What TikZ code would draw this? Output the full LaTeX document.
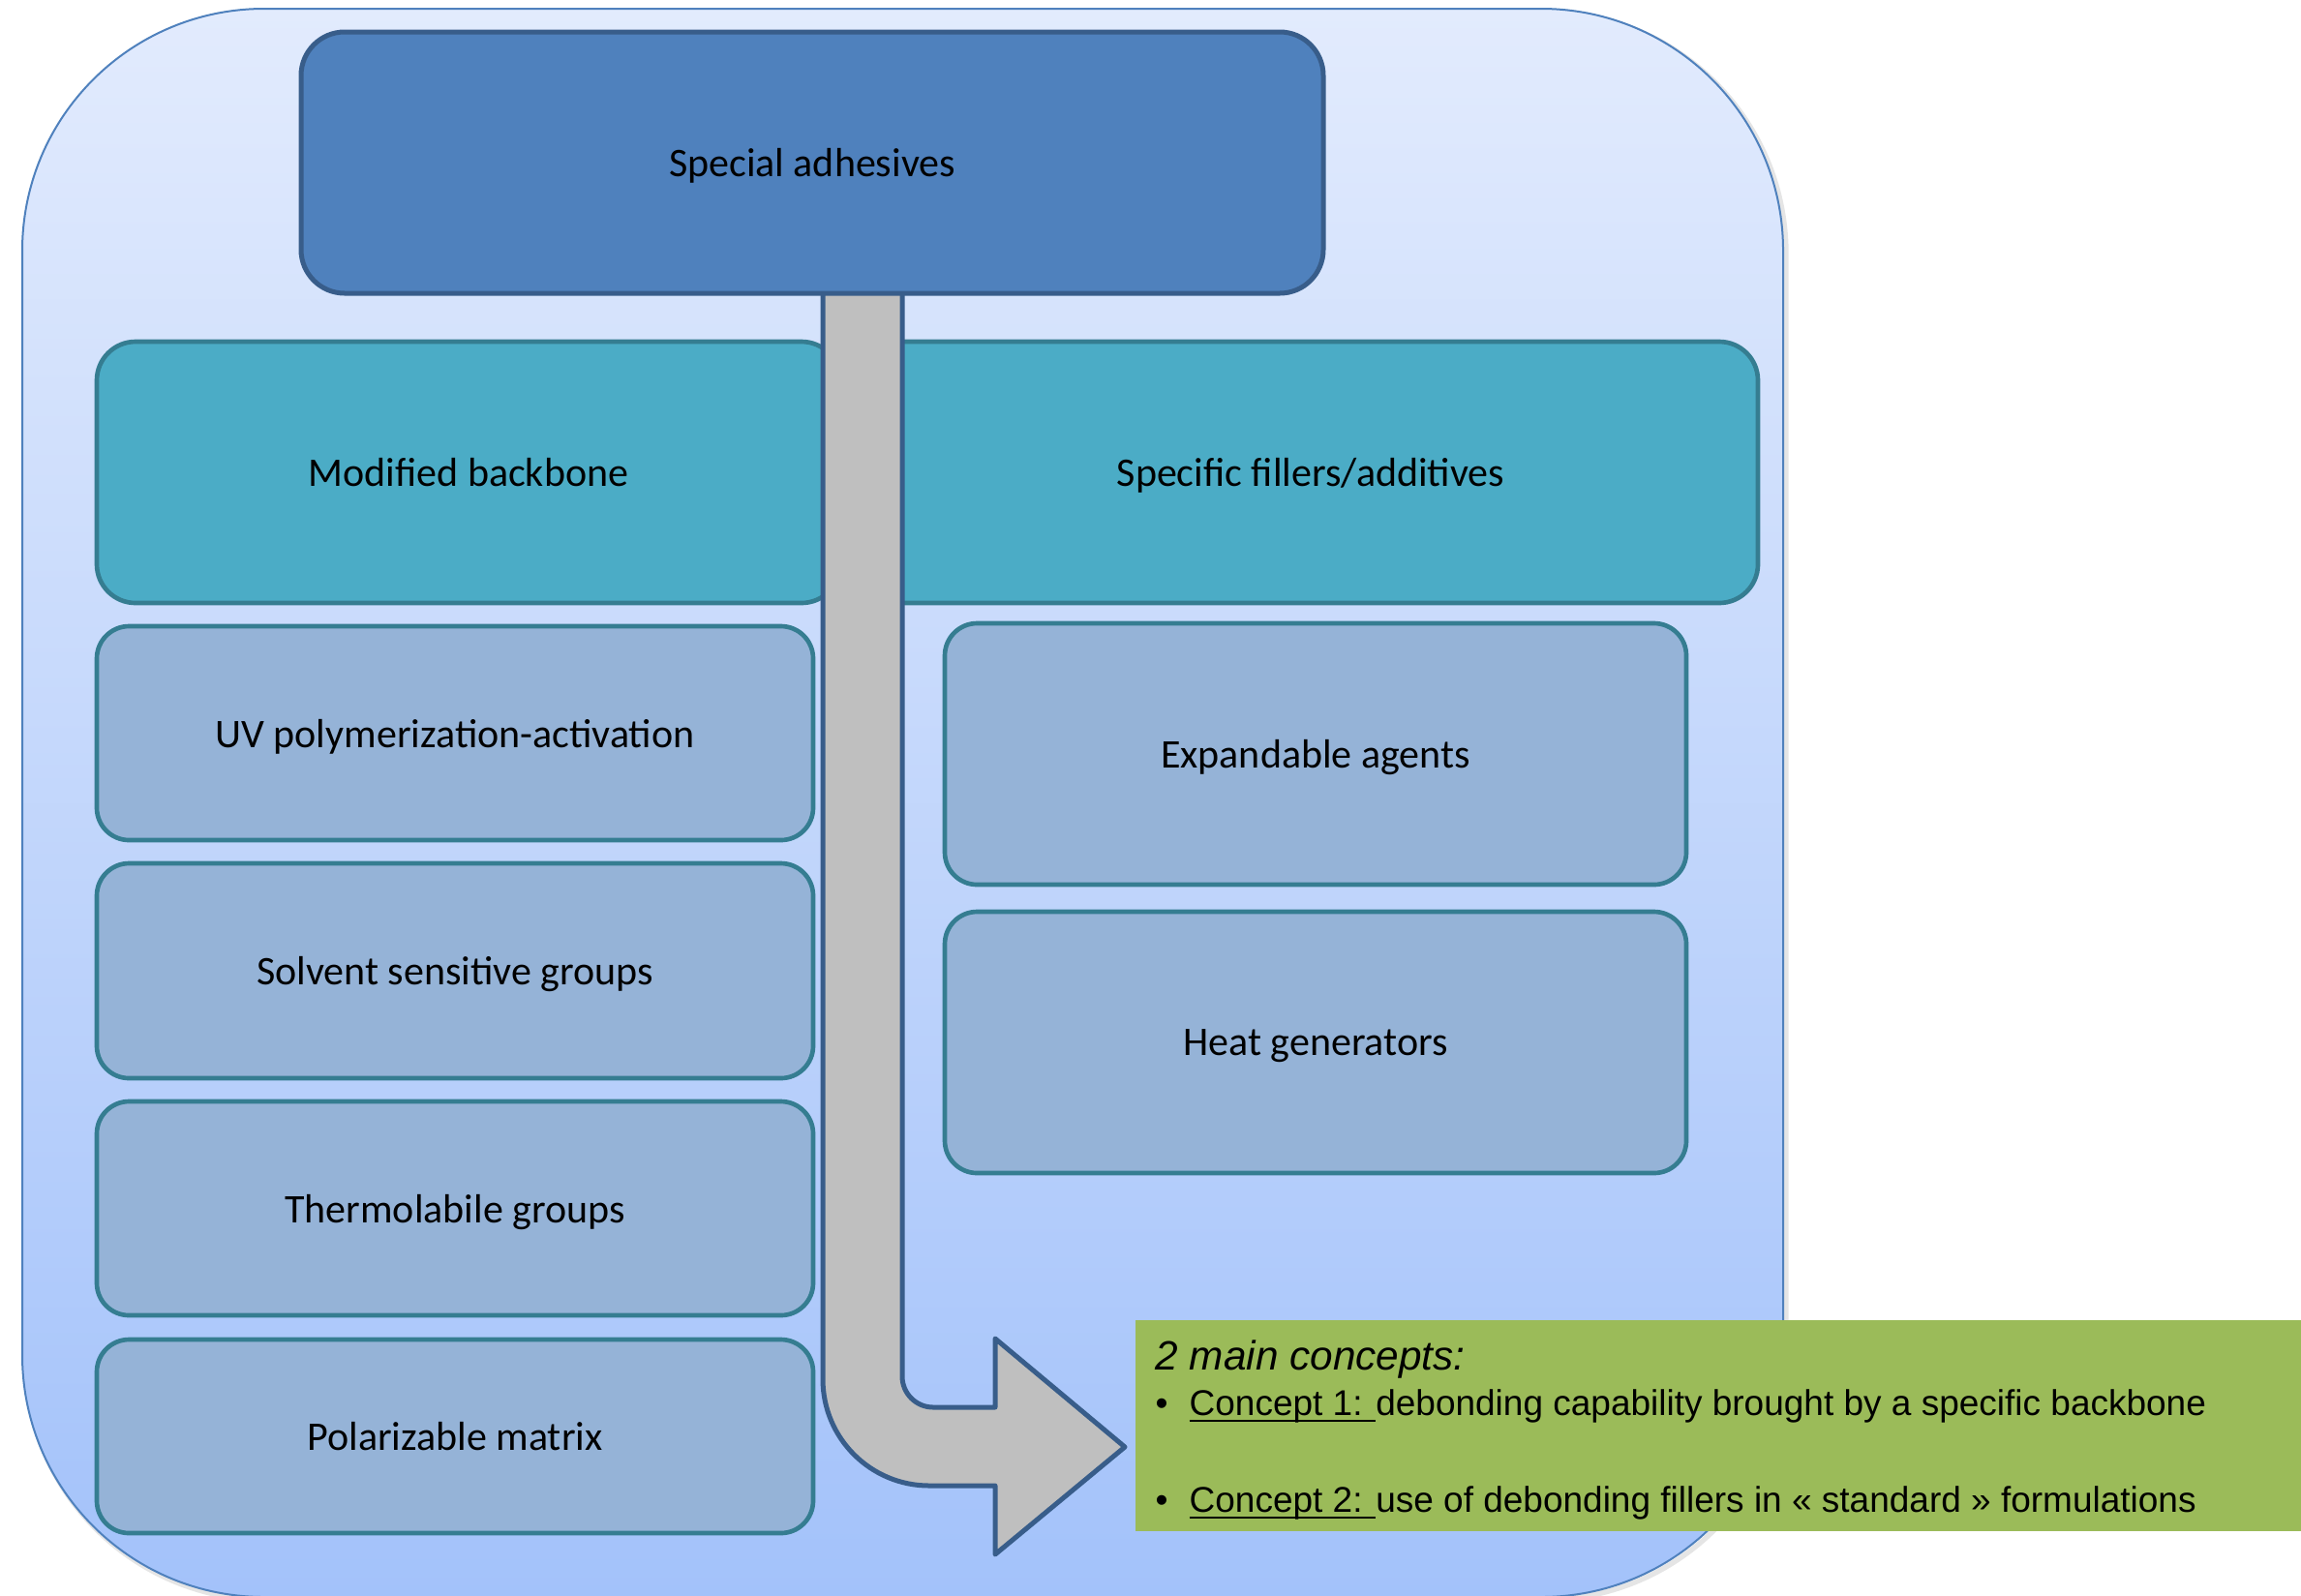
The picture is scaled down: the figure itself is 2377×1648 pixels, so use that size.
\documentclass[tikz,border=0pt]{standalone}
\usepackage{fontspec}
\setmainfont{Carlito}
\newfontfamily\arialf{Liberation Sans}
\definecolor{bgtop}{RGB}{226,235,253}
\definecolor{bgbot}{RGB}{163,194,250}
\definecolor{bgline}{RGB}{79,129,189}
\definecolor{saFill}{RGB}{79,129,189}
\definecolor{saLine}{RGB}{56,93,138}
\definecolor{catFill}{RGB}{75,172,198}
\definecolor{catLine}{RGB}{53,125,145}
\definecolor{subFill}{RGB}{149,179,215}
\definecolor{arrFill}{RGB}{191,191,191}
\definecolor{grFill}{RGB}{155,187,89}
\newcommand\myul[1]{\setbox0\hbox{#1}\rlap{\rule[-2.1pt]{\wd0}{0.75pt}}\box0}
\tikzset{
  lbl/.style={font=\fontsize{12.6}{15}\selectfont, text=black, inner sep=0pt, align=center, text depth=0pt, yshift=-0.3pt},
  sabox/.style={lbl, draw=saLine, fill=saFill, line width=1.5pt, rounded corners=13.5pt},
  catbox/.style={lbl, draw=catLine, fill=catFill, line width=1.4pt, rounded corners=12pt, minimum height=81pt},
  subbox/.style={lbl, draw=catLine, fill=subFill, line width=1.4pt, rounded corners=10pt},
  arrowshape/.style={draw=saLine, fill=arrFill, line width=1.5pt, line join=round},
  greenbox/.style={fill=grFill, inner sep=0pt},
  gtext/.style={font=\arialf\fontsize{11.1}{13}\selectfont, inner sep=0pt, anchor=base west},
}
\begin{document}
\begin{tikzpicture}[x=0.3pt,y=-0.3pt]
\useasboundingbox (0,0) rectangle (2377,1648);
% soft shadow of the container
\draw[rounded corners=75pt, draw=black!10, line width=1.6pt] (26,12) rectangle (1845,1653);
% background container
\draw[rounded corners=75pt, top color=bgtop, bottom color=bgbot, draw=bgline, line width=0.6pt]
  (23,9) rectangle (1842,1650);
% category boxes
\node[catbox, minimum width=230.4pt] (modified) at (484,487) {Modified backbone};
\node[catbox, minimum width=277.2pt] (specific) at (1354,487) {Specific fillers/additives};
% sub boxes left
\node[subbox, minimum width=222pt, minimum height=66.3pt] (uv) at (470,756.5) {UV polymerization-activation};
\node[subbox, minimum width=222pt, minimum height=66.6pt] (solvent) at (470,1002) {Solvent sensitive groups};
\node[subbox, minimum width=222pt, minimum height=66.3pt] (thermo) at (470,1247.5) {Thermolabile groups};
\node[subbox, minimum width=222pt, minimum height=60pt] (polar) at (470,1483) {Polarizable matrix};
% sub boxes right
\node[subbox, minimum width=229.8pt, minimum height=81pt] (expand) at (1359,778) {Expandable agents};
\node[subbox, minimum width=229.8pt, minimum height=81pt] (heat) at (1359,1076) {Heat generators};
% bent arrow
\draw[arrowshape] (850,290) -- (850,1425)
  .. controls (850,1485.8) and (899.2,1535) .. (960,1535)
  -- (1028,1535) -- (1028,1606) -- (1162,1495) -- (1028,1383) -- (1028,1454)
  -- (964,1454) .. controls (946.3,1454) and (932,1439.7) .. (932,1422)
  -- (932,290) -- cycle;
% top box
\node[sabox, minimum width=316.8pt, minimum height=81pt] (special) at (839,167) {Special adhesives};
% green concept box
\node[greenbox, anchor=north west, minimum width=363pt, minimum height=65.4pt] (concepts) at (1172,1363) {};
\node[gtext, font=\arialf\itshape\fontsize{12.7}{15}\selectfont] (head) at (1193,1415) {2 main concepts:};
\node[gtext] (c1) at (1193,1462) {\makebox[10.5pt][l]{•}\myul{Concept 1: }debonding capability brought by a specific backbone};
\node[gtext] (c2) at (1193,1562) {\makebox[10.5pt][l]{•}\myul{Concept 2: }use of debonding fillers in « standard » formulations};
\end{tikzpicture}
\end{document}
